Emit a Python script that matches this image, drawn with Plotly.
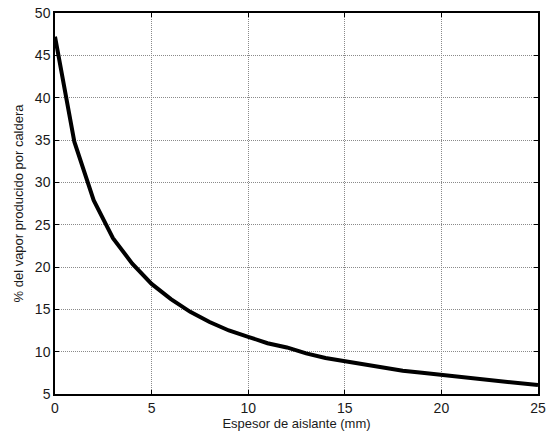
import plotly.graph_objects as go

# Insulation thickness (mm) and share of steam produced by the boiler (%)
espesor_mm = list(range(0, 26))
vapor_pct = [47.2, 34.8, 27.9, 23.4, 20.4, 18.0, 16.2, 14.7, 13.5, 12.5,
             11.75, 11.0, 10.5, 9.8, 9.25, 8.85, 8.45, 8.05, 7.75, 7.5,
             7.25, 7.0, 6.7, 6.45, 6.3, 6.05]

x_ticks = [0, 5, 10, 15, 20, 25]
y_ticks = [5, 10, 15, 20, 25, 30, 35, 40, 45, 50]

fig = go.Figure()
fig.add_trace(go.Scatter(
    x=espesor_mm, y=vapor_pct, mode="lines",
    line=dict(color="black", width=4),
    showlegend=False,
))

axis_common = dict(
    showline=True, linecolor="black", linewidth=1.5, mirror="ticks",
    ticks="inside", ticklen=4, tickcolor="black", tickwidth=1,
    showgrid=True, gridcolor="#8a8a8a", gridwidth=1, griddash="1px,1px",
    zeroline=False, automargin=False,
    tickfont=dict(family="Liberation Sans, Arial, sans-serif", size=14, color="#1a1a1a"),
    title_font=dict(family="Liberation Sans, Arial, sans-serif", size=13, color="#1a1a1a"),
)

fig.update_xaxes(range=[0, 25], tickvals=x_ticks, title_text="Espesor de aislante (mm)",
                 title_standoff=2, **axis_common)
fig.update_yaxes(range=[5, 50], tickvals=y_ticks, title_text="% del vapor producido por caldera",
                 title_standoff=8, **axis_common)

fig.update_layout(
    width=552, height=437,
    margin=dict(l=55, r=14, t=13, b=43),
    paper_bgcolor="white", plot_bgcolor="white",
)

fig.write_html("out.html")
